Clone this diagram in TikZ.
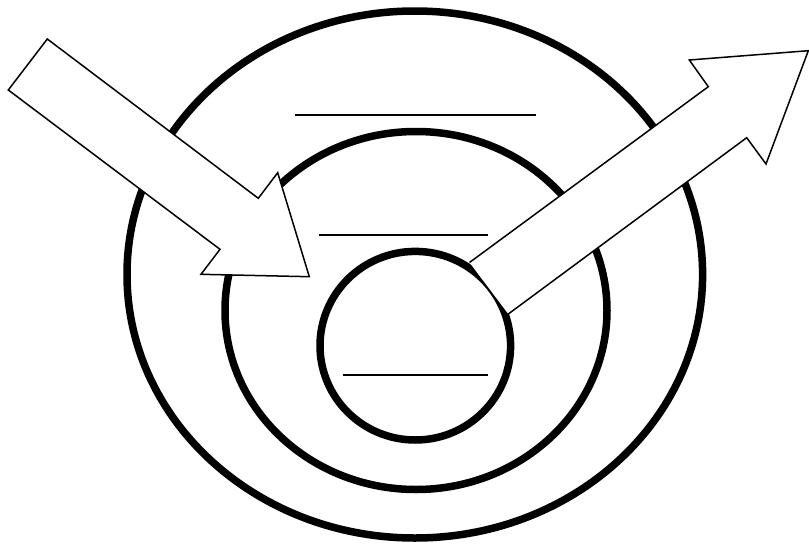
\documentclass[tikz,border=0pt]{standalone}
\usepackage{xcolor}
\usepackage{tikz}
\usetikzlibrary{calc}

\tikzset{
  ring/.style={draw=black, line width=7.5pt},
  blank/.style={draw=black, line width=1.8pt},
  bigarrow/.style={draw=black, fill=white, line width=1.5pt, line join=miter}
}

\begin{document}
\begin{tikzpicture}
\begin{scope}[x=1pt, y=-1pt]
\useasboundingbox (0,0) rectangle (809,544);
% Rings
\coordinate (outer) at (414.8,274.5);
\coordinate (middle) at (416,310.5);
\coordinate (inner) at (415.3,345.7);
\draw[ring] (outer) ellipse [x radius=287.8, y radius=263.5];
\draw[ring] (middle) ellipse [x radius=191, y radius=179];
\draw[ring] (inner) ellipse [x radius=95.3, y radius=94.3];
% Blank lines
\foreach \xa/\xb/\y in {294.5/535.5/115, 318.5/487.5/235, 342.5/487.5/375}{
  \draw[blank] (\xa,\y) -- (\xb,\y);
}
% Arrow in
\draw[bigarrow] (47.3,39) -- (258.3,198.3) -- (277.7,172.7) -- (309.3,276.7)
  -- (201,274.3) -- (220,249.3) -- (8.3,90) -- cycle;
% Arrow out
\draw[bigarrow] (469.5,262.5) -- (708.3,86.7) -- (689.3,60) -- (808.3,50.7)
  -- (766,164) -- (746.7,137.7) -- (508.3,314);
\end{scope}
\end{tikzpicture}
\end{document}
